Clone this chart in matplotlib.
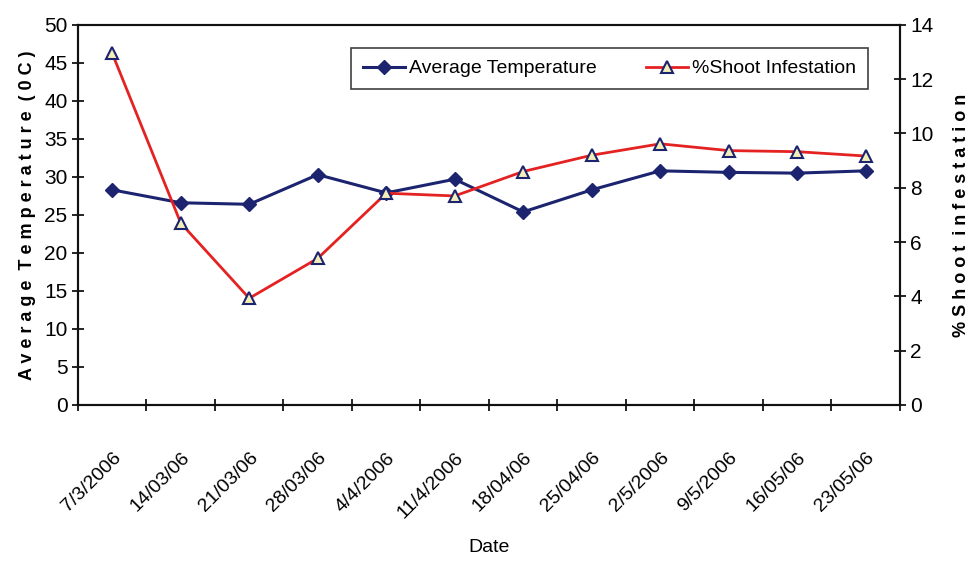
import matplotlib.pyplot as plt

plt.rcParams['font.family'] = ['Liberation Sans Narrow', 'Liberation Sans', 'DejaVu Sans']

dates = ['7/3/2006', '14/03/06', '21/03/06', '28/03/06', '4/4/2006', '11/4/2006',
         '18/04/06', '25/04/06', '2/5/2006', '9/5/2006', '16/05/06', '23/05/06']
avg_temp = [28.3, 26.6, 26.4, 30.3, 27.9, 29.7, 25.4, 28.3, 30.8, 30.6, 30.5, 30.8]
shoot_inf = [12.95, 6.7, 3.93, 5.4, 7.8, 7.7, 8.6, 9.2, 9.62, 9.37, 9.33, 9.17]

NAVY = '#1c2470'
RED = '#e42222'

fig = plt.figure(figsize=(9.75, 5.66), dpi=100)
ax = fig.add_axes([0.08, 0.2845, 0.843, 0.6715])
ax2 = ax.twinx()

x = list(range(len(dates)))
l1, = ax.plot(x, avg_temp, color=NAVY, lw=2.2, marker='D', ms=7,
              mfc=NAVY, mec=NAVY, label='Average Temperature', zorder=3)
l2, = ax2.plot(x, shoot_inf, color=RED, lw=2.0, marker='^', ms=8,
               mfc='#f4efb8', mec=NAVY, mew=1.5, label='%Shoot Infestation', zorder=3)

ax.set_xlim(-0.5, len(dates) - 0.5)
ax.set_ylim(0, 50)
ax2.set_ylim(0, 14)
ax.set_yticks(range(0, 51, 5))
ax2.set_yticks(range(0, 15, 2))

# category ticks sit between the points, labels under the points
ax.set_xticks([i - 0.5 for i in range(len(dates) + 1)])
ax.set_xticklabels([])
ax.set_xticks(x, minor=True)
ax.set_xticklabels(dates, minor=True, rotation=45, ha='right',
                   rotation_mode='anchor', fontsize=14)
ax.tick_params(axis='x', which='minor', length=0, pad=32)
ax.tick_params(axis='x', which='major', direction='inout', length=8, width=1.2)

ax.tick_params(axis='y', direction='inout', length=8, width=1.2, labelsize=15)
ax2.tick_params(axis='y', direction='inout', length=8, width=1.2, labelsize=15)

for a in (ax, ax2):
    for s in a.spines.values():
        s.set_linewidth(1.5)
        s.set_color('#111111')

ax.set_ylabel('A v e r a g e  T e m p e r a t u r e  ( 0 C )', fontsize=13,
              fontweight='bold', labelpad=6)
ax2.set_ylabel('% S h o o t  i n f e s t a t i o n', fontsize=13,
               fontweight='bold', labelpad=14)
ax.set_xlabel('Date', fontsize=14, labelpad=12)

leg = ax2.legend([l1, l2], ['Average Temperature', '%Shoot Infestation'],
                 loc='upper right', bbox_to_anchor=(0.961, 0.939), ncol=2,
                 fontsize=14, frameon=True, fancybox=False, handlelength=2.2,
                 columnspacing=2.5, handletextpad=0.2, borderpad=0.6,
                 borderaxespad=0)
leg.get_frame().set_edgecolor('#111111')
leg.get_frame().set_linewidth(1.2)

fig.savefig('out.png', dpi=100)
